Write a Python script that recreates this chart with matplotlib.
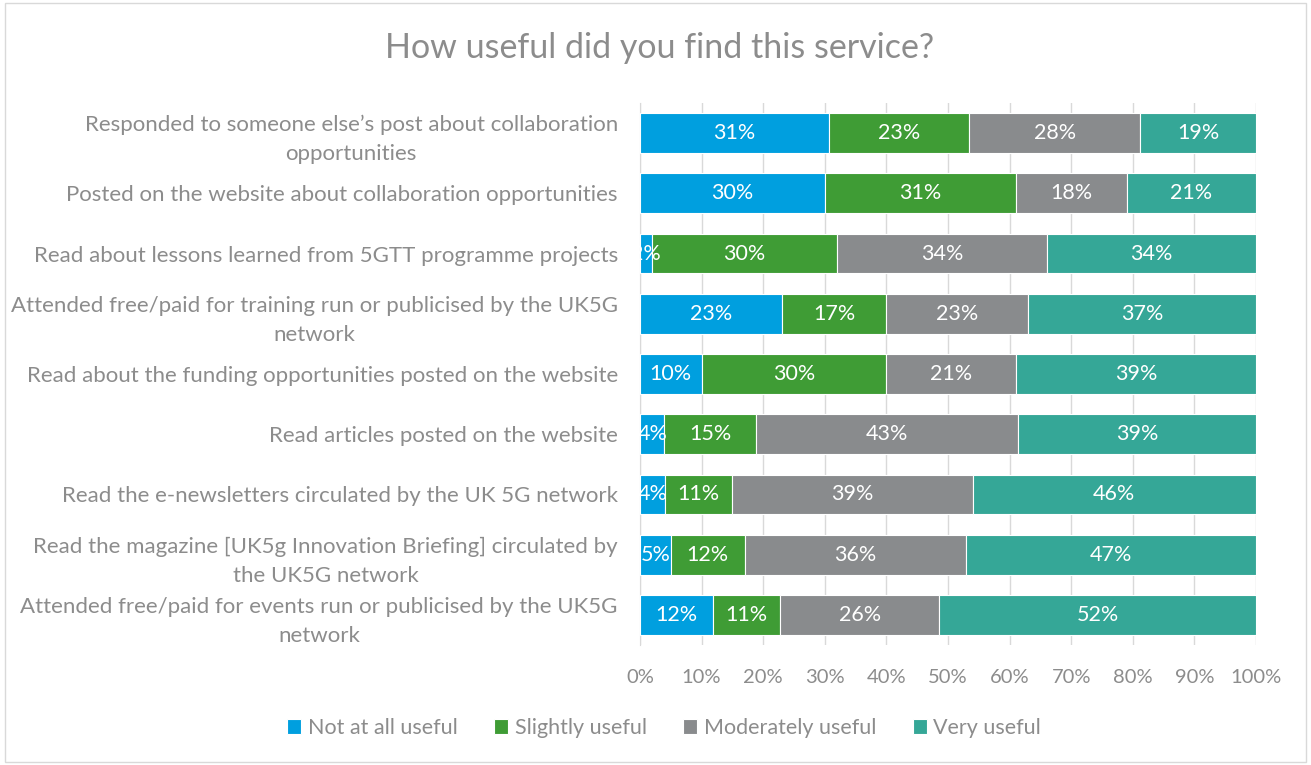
import numpy as np
import matplotlib.pyplot as plt
from matplotlib.patches import Rectangle

plt.rcParams['font.family'] = ['Lato', 'DejaVu Sans']

categories = [
    'Responded to someone else\u2019s post about collaboration\nopportunities',
    'Posted on the website about collaboration opportunities',
    'Read about lessons learned from 5GTT programme projects',
    'Attended free/paid for training run or publicised by the UK5G\nnetwork',
    'Read about the funding opportunities posted on the website',
    'Read articles posted on the website',
    'Read the e-newsletters circulated by the UK 5G network',
    'Read the magazine [UK5g Innovation Briefing] circulated by\nthe UK5G network',
    'Attended free/paid for events run or publicised by the UK5G\nnetwork',
]
series_names = ['Not at all useful', 'Slightly useful', 'Moderately useful', 'Very useful']
not_useful = [31, 30, 2, 23, 10, 4, 4, 5, 12]
slightly = [23, 31, 30, 17, 30, 15, 11, 12, 11]
moderately = [28, 18, 34, 23, 21, 43, 39, 36, 26]
very = [19, 21, 34, 37, 39, 39, 46, 47, 52]
colors = ['#009FDF', '#3F9C35', '#898B8D', '#35A797']

data = np.array([not_useful, slightly, moderately, very], dtype=float)
share = data / data.sum(axis=0)

fig = plt.figure(figsize=(13.11, 7.65), dpi=100)
ax = fig.add_axes([640 / 1311, 1 - 645 / 765, 616 / 1311, 542 / 765])

y = np.arange(len(categories))
left = np.zeros(len(categories))
text_col = '#8C8C8C'
for vals, raw, name, c in zip(share, data, series_names, colors):
    ax.barh(y, vals, left=left, height=0.66, color=c, edgecolor='white',
            linewidth=0.8, label=name, zorder=3)
    for yi, (l, v, r) in enumerate(zip(left, vals, raw)):
        ax.text(l + v / 2, yi, f'{r:.0f}%', ha='center', va='center',
                color='white', fontsize=15.5, zorder=4)
    left += vals

ax.set_xlim(0, 1)
ax.set_ylim(len(categories) - 0.5, -0.5)
ax.set_xticks(np.linspace(0, 1, 11))
ax.set_xticklabels([f'{t}%' for t in range(0, 101, 10)])
ax.set_yticks(y)
ax.set_yticklabels(categories)
for lab in ax.get_yticklabels():
    lab.set_multialignment('center')
    lab.set_linespacing(1.55)
ax.tick_params(axis='x', length=0, labelsize=14.5, labelcolor=text_col, pad=17)
ax.tick_params(axis='y', length=0, labelsize=16, labelcolor=text_col, pad=16)
ax.grid(axis='x', color='#D9D9D9', linewidth=1, zorder=0)
for s in ['top', 'right', 'bottom']:
    ax.spines[s].set_visible(False)
ax.spines['left'].set_color('#D9D9D9')

fig.suptitle('How useful did you find this service?', x=660 / 1311, y=1 - 48 / 765,
             va='center', fontsize=24.5, color=text_col)

fig.legend(loc='center', bbox_to_anchor=(664 / 1311, 1 - 728 / 765), ncol=4,
           frameon=False, fontsize=15.5, labelcolor=text_col, handlelength=0.65,
           handleheight=0.65, handletextpad=0.3, columnspacing=1.7)

fig.patches.append(Rectangle((0.004, 0.004), 0.992, 0.992, transform=fig.transFigure,
                             fill=False, edgecolor='#D9D9D9', linewidth=1))

fig.savefig('out.png', dpi=100)
